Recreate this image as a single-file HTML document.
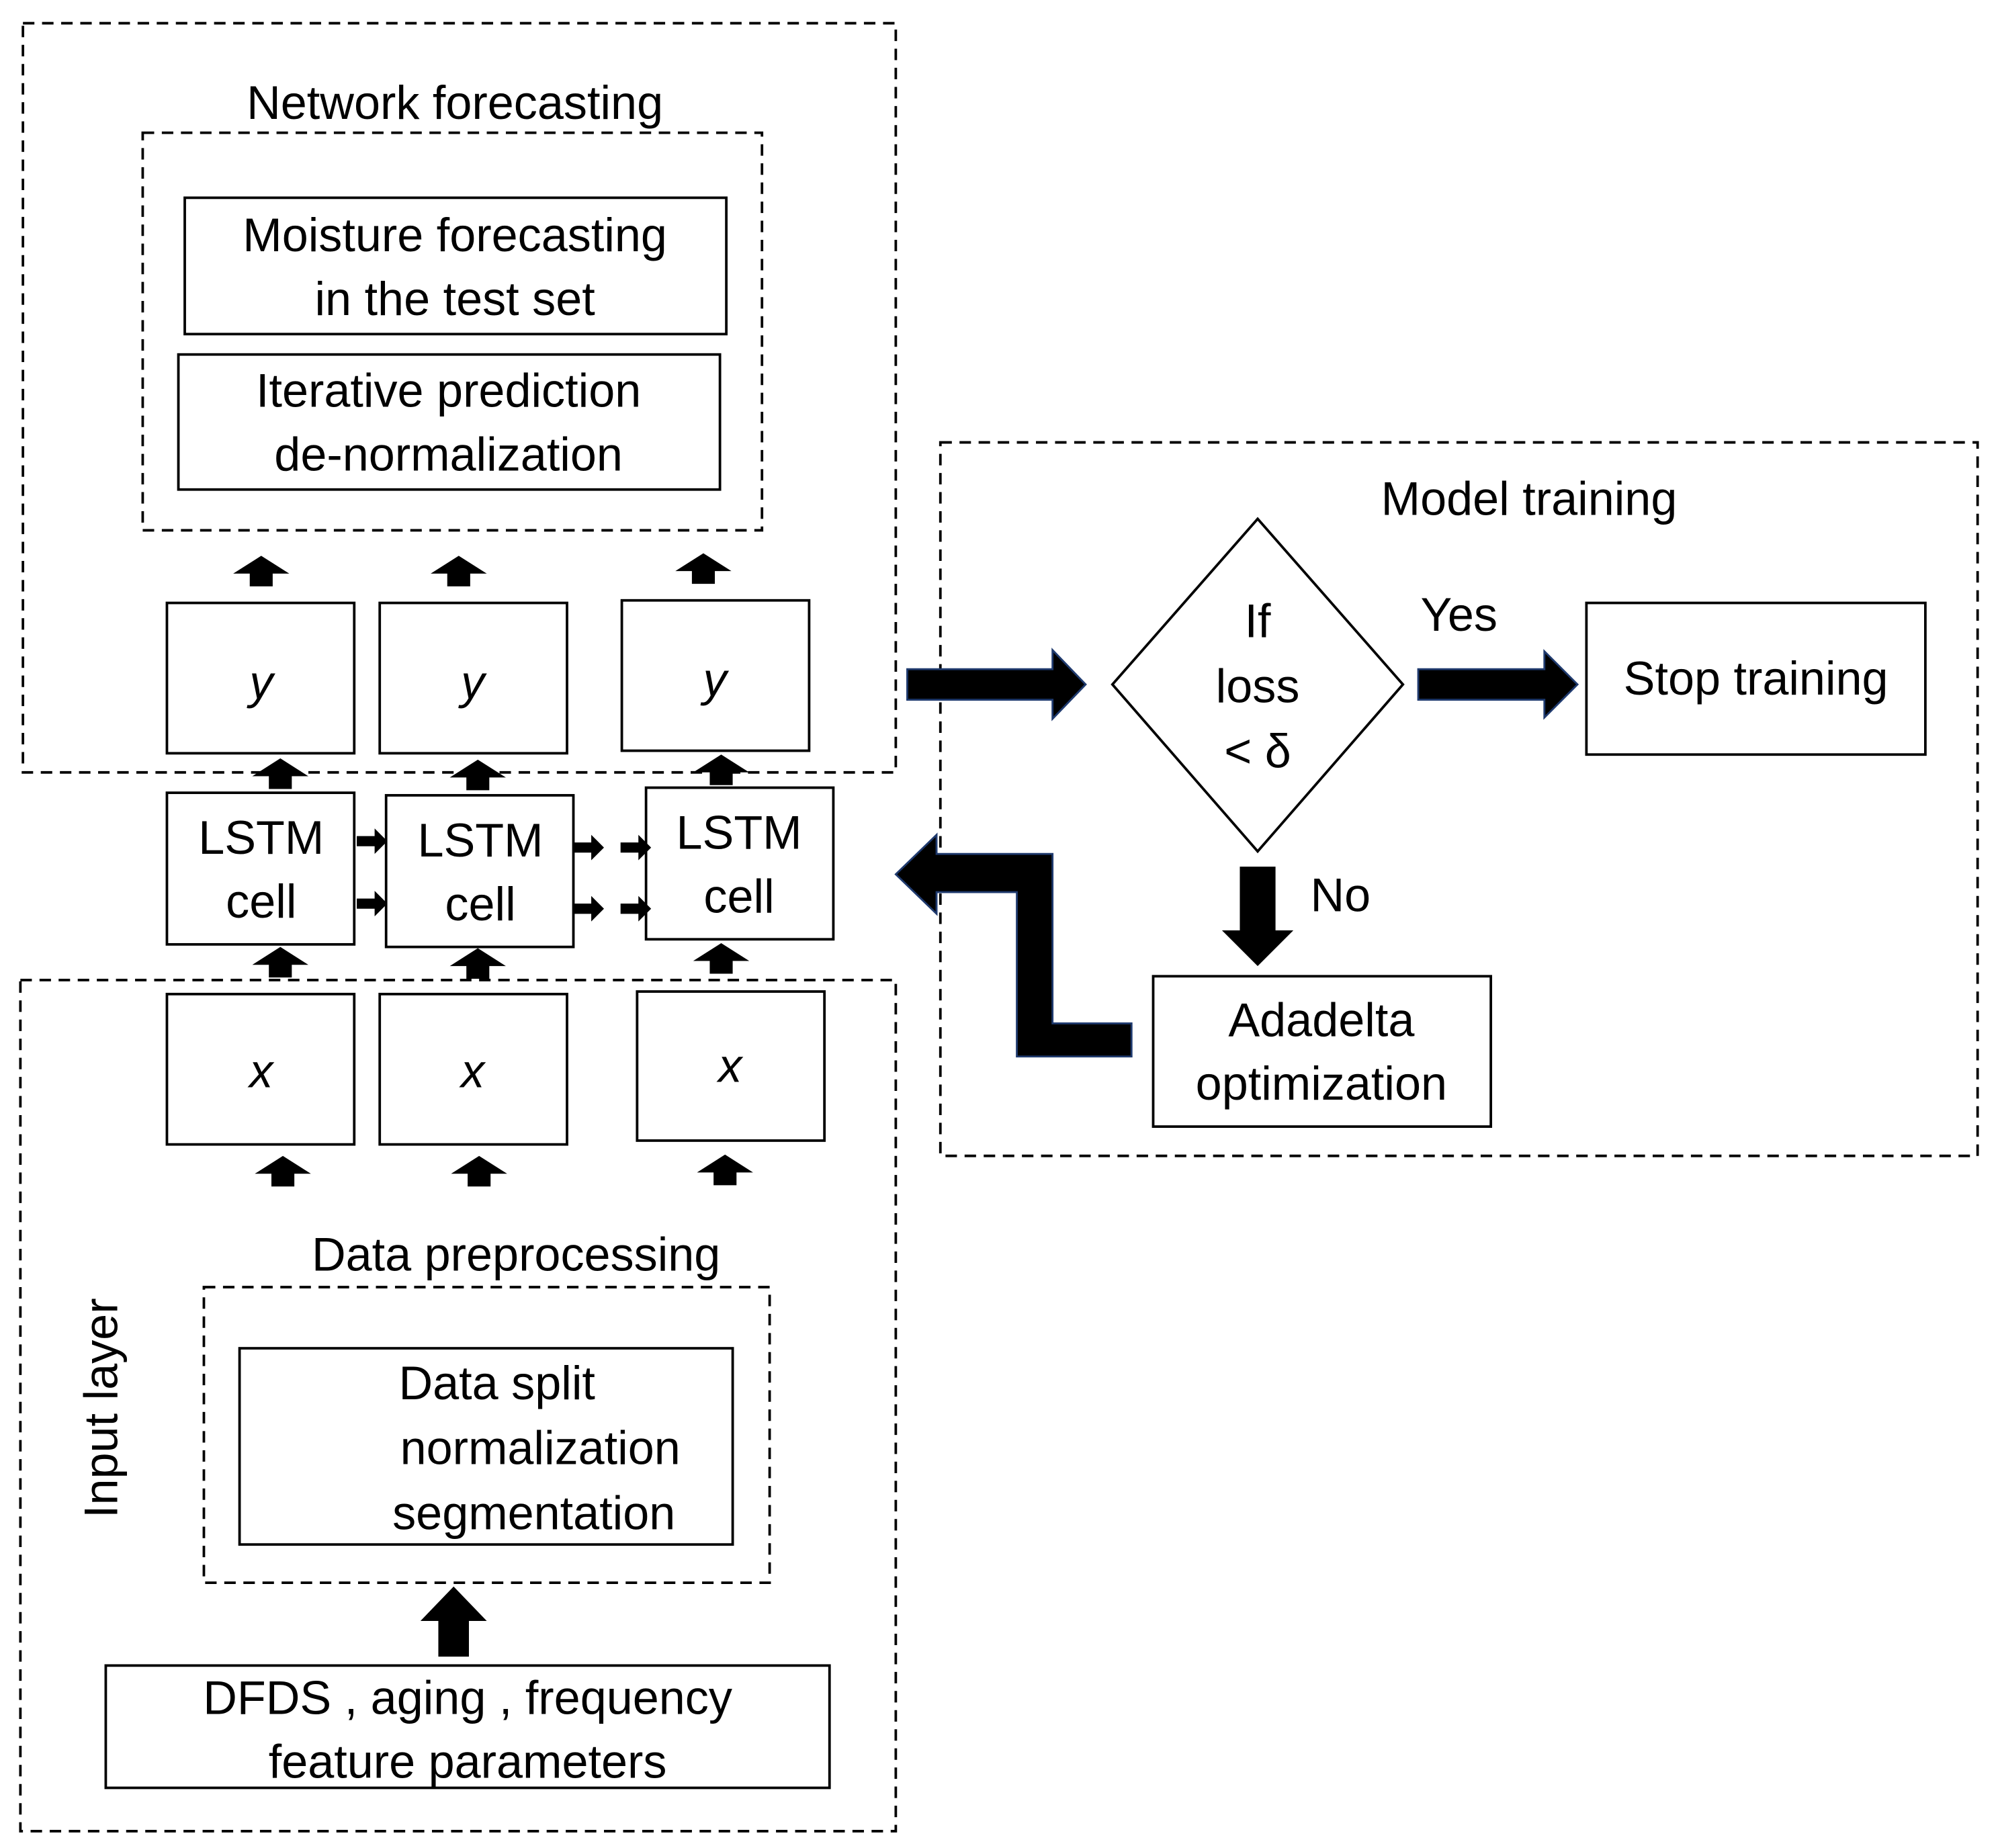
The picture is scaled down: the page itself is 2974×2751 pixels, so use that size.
<!DOCTYPE html>
<html><head><meta charset="utf-8"><style>
html,body{margin:0;padding:0;background:#fff}
svg{display:block}
text{font-family:"Liberation Sans",sans-serif;font-size:37px;fill:#000;text-anchor:middle}
.b{fill:#fff;stroke:#000;stroke-width:2}
.d{fill:none;stroke:#000;stroke-width:2;stroke-dasharray:9,6}
.i{font-style:italic}
</style></head><body>
<svg width="2974" height="2751" viewBox="0 0 1568 1450" xmlns="http://www.w3.org/2000/svg">
<defs>
<path id="up" d="M-9,12 V2 H-22 L0,-12 L22,2 H9 V12 Z" fill="#000"/>
<path id="rt" d="M-12,-4 H2 V-10 L12,0 L2,10 V4 H-12 Z" fill="#000"/>
</defs>
<rect class="d" x="18" y="18" width="685" height="588"/>
<text x="357" y="93">Network forecasting</text>
<rect class="d" x="112" y="104" width="486" height="312"/>
<rect class="b" x="145" y="155" width="425" height="107"/>
<text x="357" y="197">Moisture forecasting</text>
<text x="357" y="247">in the test set</text>
<rect class="b" x="140" y="278" width="425" height="106"/>
<text x="352" y="319">Iterative prediction</text>
<text x="352" y="369">de-normalization</text>
<use href="#up" x="205" y="448"/><use href="#up" x="360" y="448"/><use href="#up" x="552" y="446"/>
<rect class="b" x="131" y="473" width="147" height="118"/>
<rect class="b" x="298" y="473" width="147" height="118"/>
<rect class="b" x="488" y="471" width="147" height="118"/>
<text class="i" x="205" y="548">y</text><text class="i" x="371" y="548">y</text><text class="i" x="561" y="546">y</text>
<use href="#up" x="220" y="607"/><use href="#up" x="375" y="608"/><use href="#up" x="566" y="604"/>
<rect class="b" x="131" y="622" width="147" height="119"/>
<rect class="b" x="303" y="624" width="147" height="119"/>
<rect class="b" x="507" y="618" width="147" height="119"/>
<text x="205" y="670">LSTM</text><text x="205" y="720">cell</text>
<text x="377" y="672">LSTM</text><text x="377" y="722">cell</text>
<text x="580" y="666">LSTM</text><text x="580" y="716">cell</text>
<use href="#rt" x="292" y="660"/><use href="#rt" x="292" y="709"/>
<use href="#rt" x="462" y="665"/><use href="#rt" x="462" y="713"/>
<use href="#rt" x="499" y="665"/><use href="#rt" x="499" y="713"/>
<use href="#up" x="220" y="755"/><use href="#up" x="375" y="756"/><use href="#up" x="566" y="752"/>
<rect class="d" x="16" y="769" width="687" height="668"/>
<rect class="b" x="131" y="780" width="147" height="118"/>
<rect class="b" x="298" y="780" width="147" height="118"/>
<rect class="b" x="500" y="778" width="147" height="117"/>
<text class="i" x="205" y="853">x</text><text class="i" x="371" y="853">x</text><text class="i" x="573" y="849">x</text>
<use href="#up" x="222" y="919"/><use href="#up" x="376" y="919"/><use href="#up" x="569" y="918"/>
<text x="405" y="997">Data preprocessing</text>
<rect class="d" x="160" y="1010" width="444" height="232"/>
<rect class="b" x="188" y="1058" width="387" height="154"/>
<text x="390" y="1098">Data split</text>
<text x="424" y="1149">normalization</text>
<text x="419" y="1200">segmentation</text>
<text x="0" y="0" transform="translate(92,1105) rotate(-90)">Input layer</text>
<path d="M344,1300 V1272 H330 L356,1245 L382,1272 H368 V1300 Z" fill="#000"/>
<rect class="b" x="83" y="1307" width="568" height="96"/>
<text x="367" y="1345">DFDS , aging , frequency</text>
<text x="367" y="1395">feature parameters</text>
<rect class="d" x="738" y="347" width="814" height="560"/>
<text x="1200" y="404">Model training</text>
<path d="M712,525 H826 V510 L852,537 L826,564 V549 H712 Z" fill="#000" stroke="#1f3a6e" stroke-width="1.5"/>
<polygon class="b" points="987,407 1101,537 987,668 873,537"/>
<text x="987" y="500">If</text><text x="987" y="551">loss</text><text x="987" y="602">&lt; δ</text>
<text x="1145" y="495">Yes</text>
<path d="M1113,525 H1212 V511 L1238,537 L1212,563 V549 H1113 Z" fill="#000" stroke="#1f3a6e" stroke-width="1.5"/>
<rect class="b" x="1245" y="473" width="266" height="119"/>
<text x="1378" y="545">Stop training</text>
<path d="M973,680 H1001 V730 H1015 L987,758 L959,730 H973 Z" fill="#000"/>
<text x="1052" y="715">No</text>
<rect class="b" x="905" y="766" width="265" height="118"/>
<text x="1037" y="813">Adadelta</text>
<text x="1037" y="863">optimization</text>
<path d="M888,803 V829 H798 V700 H735 V717 L703,686 L735,655 V670 H826 V803 Z" fill="#000" stroke="#1f3a6e" stroke-width="1.5"/>
</svg>
</body></html>
